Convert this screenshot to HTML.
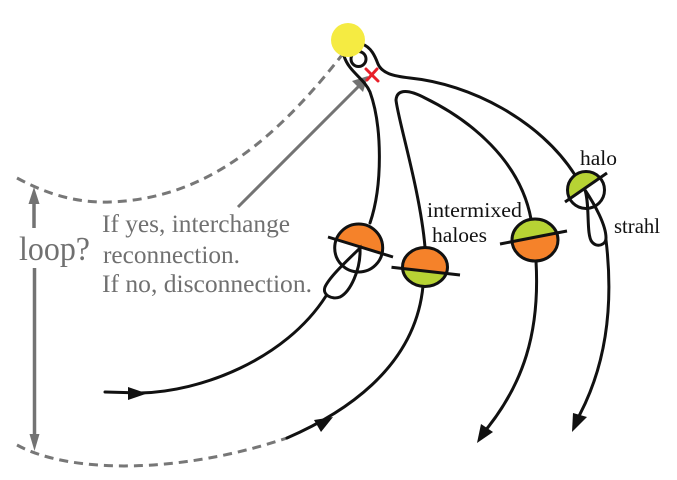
<!DOCTYPE html>
<html><head><meta charset="utf-8">
<style>
html,body{margin:0;padding:0;background:#fff;}
svg{display:block;}
text{font-family:"Liberation Serif",serif;}
</style></head>
<body>
<svg width="677" height="480" viewBox="0 0 677 480" xmlns="http://www.w3.org/2000/svg">
<defs>
<clipPath id="c1"><circle cx="358.7" cy="248" r="24"/></clipPath>
<clipPath id="c2"><ellipse cx="425" cy="267" rx="22.5" ry="19.5"/></clipPath>
<clipPath id="c3"><ellipse cx="535" cy="240" rx="23" ry="21"/></clipPath>
<clipPath id="c4"><circle cx="586" cy="190" r="18.5"/></clipPath>
</defs>

<!-- gray dashed curves -->
<path d="M17,178 C50,196 80,203 110,202 C190,199 260,160 342,55" fill="none" stroke="#777" stroke-width="3" stroke-dasharray="9 6"/>
<path d="M17,445 C70,474 180,474 287,438" fill="none" stroke="#777" stroke-width="3" stroke-dasharray="9 6"/>

<!-- loop? arrows -->
<line x1="34" y1="200" x2="34" y2="228" stroke="#737373" stroke-width="3.5"/>
<polygon points="34,187 28.5,204 39.5,204" fill="#737373"/>
<line x1="34.5" y1="268" x2="34.5" y2="440" stroke="#737373" stroke-width="3.5"/>
<polygon points="34.5,451 29.5,434 39.5,434" fill="#737373"/>

<!-- gray arrow to X -->
<line x1="238" y1="207" x2="359" y2="86" stroke="#737373" stroke-width="3"/>
<polygon points="368,76 352,81 363,92" fill="#737373"/>

<!-- black field lines -->
<g fill="none" stroke="#111" stroke-width="3" stroke-linecap="round">
  <path d="M370,223 C383,185 382,125 370,92 C364,78 349,72 344,56"/>
  <path d="M362,44 C371,47 375,56 378,64 C382,73 392,76 410,78 C470,84 540,120 575,175"/>
  <circle cx="358.5" cy="59" r="7.5"/>
  <path d="M425,247 C420,190 398,120 396,100 C397,88 410,90 425,98 C470,120 520,160 531,219"/>
  <path d="M105,392 L140,393 C200,392 285,360 326,296"/>
  <path d="M287,438 C340,415 415,370 423,286"/>
  <path d="M536,261 C540,330 525,385 480,437"/>
  <path d="M606,240 C612,290 612,360 574,425"/>
</g>

<!-- black arrowheads -->
<polygon points="147,393.5 128,387 128,400" fill="#111"/>
<polygon points="333,417 321,432 314,420" fill="#111"/>
<polygon points="477,443 481,424 493,432" fill="#111"/>
<polygon points="572,432 573,413 587,417" fill="#111"/>

<!-- Ball 1 -->
<circle cx="358.7" cy="248" r="24" fill="#fff"/>
<polygon points="328,237 393,257 393,150 328,130" fill="#f5822a" clip-path="url(#c1)"/>
<path d="M360,248 C350,258 330,276 325,287 C322,295 332,300 340,297 C350,292 361,270 360,248 Z" fill="none" stroke="#111" stroke-width="3"/>
<circle cx="358.7" cy="248" r="24" fill="none" stroke="#111" stroke-width="3"/>
<line x1="328" y1="237" x2="393" y2="257" stroke="#111" stroke-width="3"/>

<!-- Ball 2 -->
<ellipse cx="425" cy="267" rx="22.5" ry="19.5" fill="#b7d334"/>
<polygon points="391,267.3 460,275 460,170 391,162" fill="#f5822a" clip-path="url(#c2)"/>
<ellipse cx="425" cy="267" rx="22.5" ry="19.5" fill="none" stroke="#111" stroke-width="3"/>
<line x1="391.5" y1="267.3" x2="460" y2="275" stroke="#111" stroke-width="3"/>

<!-- Ball 3 -->
<ellipse cx="535" cy="240" rx="23" ry="21" fill="#f5822a"/>
<polygon points="500,244 567,231 567,130 500,140" fill="#b7d334" clip-path="url(#c3)"/>
<ellipse cx="535" cy="240" rx="23" ry="21" fill="none" stroke="#111" stroke-width="3"/>
<line x1="500" y1="244" x2="567" y2="231" stroke="#111" stroke-width="3"/>

<!-- Ball 4 -->
<circle cx="586" cy="190" r="18.5" fill="#fff"/>
<polygon points="565,202 607,173 607,120 565,120" fill="#b7d334" clip-path="url(#c4)"/>
<path d="M585,190 C590,205 586,235 592,242 C597,248 606,245 606,238 C606,225 595,205 585,190 Z" fill="none" stroke="#111" stroke-width="3"/>
<circle cx="586" cy="190" r="18.5" fill="none" stroke="#111" stroke-width="3"/>
<line x1="565" y1="202" x2="607" y2="173" stroke="#111" stroke-width="3"/>

<!-- yellow sun -->
<circle cx="348" cy="40" r="17" fill="#f5eb42"/>

<!-- red X -->
<g stroke="#e8202a" stroke-width="3" stroke-linecap="round">
  <line x1="366" y1="69" x2="378" y2="81"/>
  <line x1="377" y1="69" x2="367" y2="80"/>
</g>

<!-- labels -->
<g fill="#111" font-size="21">
  <text x="580" y="165" textLength="37" lengthAdjust="spacingAndGlyphs">halo</text>
  <text x="427" y="217" textLength="95" lengthAdjust="spacingAndGlyphs">intermixed</text>
  <text x="432" y="242" textLength="55" lengthAdjust="spacingAndGlyphs">haloes</text>
  <text x="614" y="233" textLength="46" lengthAdjust="spacingAndGlyphs">strahl</text>
</g>
<g fill="#707070">
  <text x="19" y="260" font-size="34" textLength="71" lengthAdjust="spacingAndGlyphs">loop?</text>
  <text x="102" y="232" font-size="25" textLength="188" lengthAdjust="spacingAndGlyphs">If yes, interchange</text>
  <text x="103" y="263" font-size="25" textLength="137" lengthAdjust="spacingAndGlyphs">reconnection.</text>
  <text x="102" y="292" font-size="25" textLength="210" lengthAdjust="spacingAndGlyphs">If no, disconnection.</text>
</g>
</svg>
</body></html>
